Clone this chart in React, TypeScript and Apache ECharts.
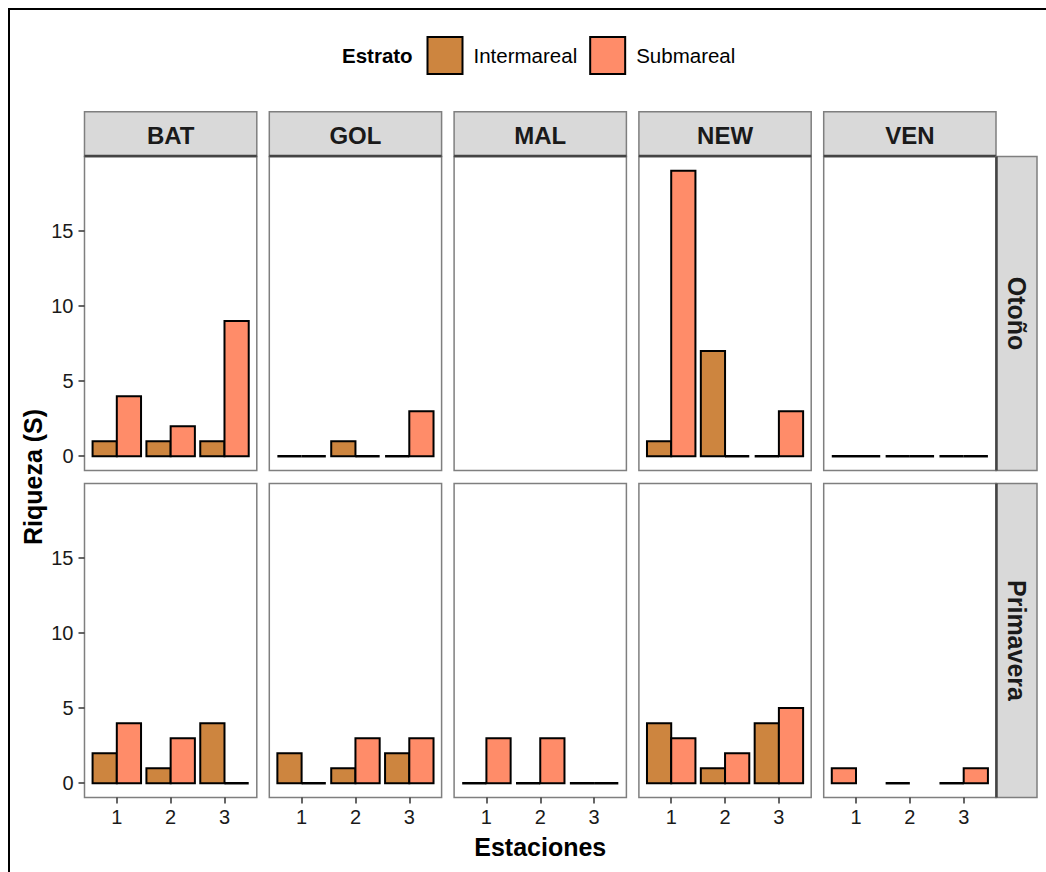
import React, { useEffect, useRef } from "react";
import * as echarts from "echarts";

// ---------- data ----------
const sites = ["BAT", "GOL", "MAL", "NEW", "VEN"];
const seasons = ["Otoño", "Primavera"];
const stations = [1, 2, 3];
const strata = ["Intermareal", "Submareal"];
const strataColors = ["#CD853F", "#FF8C69"];
const yTicks = [0, 5, 10, 15];

// Riqueza (S) per site (rows) and station (columns); null = not sampled
const otonoIntermareal = [[1, 1, 1], [0, 1, 0], [null, null, null], [1, 7, 0], [0, 0, 0]];
const otonoSubmareal = [[4, 2, 9], [0, 0, 3], [null, null, null], [19, 0, 3], [0, 0, 0]];
const primaveraIntermareal = [[2, 1, 4], [2, 1, 2], [0, 0, 0], [4, 1, 4], [null, 0, 0]];
const primaveraSubmareal = [[4, 3, 0], [0, 3, 3], [3, 3, 0], [3, 2, 5], [1, null, 1]];

const seasonData = [
  [otonoIntermareal, otonoSubmareal],
  [primaveraIntermareal, primaveraSubmareal],
];

// ---------- layout ----------
const FONT = "'Liberation Sans', Arial, Helvetica, sans-serif";
const PANEL_LEFT0 = 84.5;
const PANEL_W = 172.3;
const COL_STEP = 184.8;
const PANEL_TOP0 = 156.5;
const PANEL_H = 314;
const ROW_STEP = 327;
const STRIP_TOP = 111.7;
const STRIP_RIGHT_W = 41;

export default function App() {
  const ref = useRef<HTMLDivElement>(null);

  useEffect(() => {
    if (!ref.current) return;
    const chart = echarts.init(ref.current, undefined, { renderer: "svg" });

    const grids: any[] = [];
    const xAxes: any[] = [];
    const yAxes: any[] = [];
    const series: any[] = [];
    const graphics: any[] = [];

    // outer border
    graphics.push({
      type: "rect",
      shape: { x: 9, y: 9, width: 1100, height: 900 },
      style: { fill: "none", stroke: "#000", lineWidth: 2 },
      silent: true,
      z: 0,
    });

    seasons.forEach((season, r) => {
      sites.forEach((site, c) => {
        const gi = r * sites.length + c;
        const left = PANEL_LEFT0 + c * COL_STEP;
        const top = PANEL_TOP0 + r * ROW_STEP;
        grids.push({
          left,
          top,
          width: PANEL_W,
          height: PANEL_H,
          show: true,
          backgroundColor: "#fff",
          borderColor: "#7F7F7F",
          borderWidth: 1.5,
          containLabel: false,
          outerBoundsMode: "none",
        });
        const bottomRow = r === seasons.length - 1;
        const leftCol = c === 0;
        xAxes.push({
          type: "value",
          gridIndex: gi,
          min: 0.4,
          max: 3.6,
          axisLine: { show: false, onZero: false },
          splitLine: { show: false },
          axisTick: {
            show: bottomRow,
            customValues: stations,
            length: 6,
            lineStyle: { color: "#333", width: 1.5 },
          },
          axisLabel: {
            show: bottomRow,
            customValues: stations,
            margin: 9,
            fontSize: 20,
            color: "#1a1a1a",
            fontFamily: FONT,
          },
        });
        yAxes.push({
          type: "value",
          gridIndex: gi,
          min: -0.95,
          max: 19.95,
          axisLine: { show: false, onZero: false },
          splitLine: { show: false },
          axisTick: {
            show: leftCol,
            customValues: yTicks,
            length: 6,
            lineStyle: { color: "#333", width: 1.5 },
          },
          axisLabel: {
            show: leftCol,
            customValues: yTicks,
            margin: 11,
            fontSize: 20,
            color: "#1a1a1a",
            fontFamily: FONT,
          },
        });

        const [inter, sub] = seasonData[r];
        const values = [inter[c], sub[c]];
        strata.forEach((name, s) => {
          const data: any[] = [];
          stations.forEach((st, k) => {
            const v = values[s][k];
            if (v === null || v === undefined) return;
            const other = values[1 - s][k];
            // dodge with preserve = "single": a lone bar takes the left slot
            const slot = other === null || other === undefined ? 0 : s;
            data.push([st, slot, v]);
          });
          const color = strataColors[s];
          series.push({
            type: "custom",
            name,
            xAxisIndex: gi,
            yAxisIndex: gi,
            clip: false,
            itemStyle: { color, borderColor: "#000", borderWidth: 2 },
            encode: { x: 0, y: 2 },
            data,
            renderItem: (params: any, api: any) => {
              const x = api.value(0);
              const slot = api.value(1);
              const v = api.value(2);
              const x0 = x - 0.45 + slot * 0.45;
              const p = api.coord([x0, v]);
              const b = api.coord([x0, 0]);
              const w = api.size([0.45, 0])[0];
              if (v === 0) {
                return {
                  type: "line",
                  shape: { x1: b[0], y1: b[1], x2: b[0] + w, y2: b[1] },
                  style: { stroke: "#000", lineWidth: 2.5 },
                };
              }
              return {
                type: "rect",
                shape: { x: p[0], y: p[1], width: w, height: b[1] - p[1] },
                style: { fill: color, stroke: "#000", lineWidth: 2 },
              };
            },
          });
        });
      });
    });

    // top strips
    sites.forEach((site, c) => {
      const left = PANEL_LEFT0 + c * COL_STEP;
      const h = PANEL_TOP0 - STRIP_TOP;
      graphics.push({
        type: "rect",
        shape: { x: left, y: STRIP_TOP, width: PANEL_W, height: h },
        style: { fill: "#D9D9D9", stroke: "#7F7F7F", lineWidth: 1.5 },
        silent: true,
      });
      graphics.push({
        type: "line",
        shape: { x1: left, y1: PANEL_TOP0 - 0.5, x2: left + PANEL_W, y2: PANEL_TOP0 - 0.5 },
        style: { stroke: "#444", lineWidth: 2.5 },
        silent: true,
      });
      graphics.push({
        type: "text",
        x: left + PANEL_W / 2,
        y: STRIP_TOP + h / 2 + 1,
        style: {
          text: site,
          fontSize: 24,
          fontWeight: "bold",
          fontFamily: FONT,
          fill: "#1a1a1a",
          textAlign: "center",
          textVerticalAlign: "middle",
        },
        silent: true,
      });
    });

    // right strips
    const stripX = PANEL_LEFT0 + 4 * COL_STEP + PANEL_W;
    seasons.forEach((season, r) => {
      const top = PANEL_TOP0 + r * ROW_STEP;
      graphics.push({
        type: "rect",
        shape: { x: stripX, y: top, width: STRIP_RIGHT_W, height: PANEL_H },
        style: { fill: "#D9D9D9", stroke: "#7F7F7F", lineWidth: 1.5 },
        silent: true,
      });
      graphics.push({
        type: "line",
        shape: { x1: stripX + 0.5, y1: top, x2: stripX + 0.5, y2: top + PANEL_H },
        style: { stroke: "#444", lineWidth: 2.5 },
        silent: true,
      });
      graphics.push({
        type: "text",
        x: stripX + STRIP_RIGHT_W / 2,
        y: top + PANEL_H / 2,
        rotation: -Math.PI / 2,
        style: {
          text: season,
          fontSize: 25,
          fontWeight: "bold",
          fontFamily: FONT,
          fill: "#1a1a1a",
          textAlign: "center",
          textVerticalAlign: "middle",
        },
        silent: true,
      });
    });

    // legend title
    graphics.push({
      type: "text",
      x: 342,
      y: 55,
      style: {
        text: "Estrato",
        fontSize: 20.5,
        fontWeight: "bold",
        fontFamily: FONT,
        fill: "#000",
        textAlign: "left",
        textVerticalAlign: "middle",
      },
      silent: true,
    });

    // axis titles
    const panelsMidX = (PANEL_LEFT0 + PANEL_LEFT0 + 4 * COL_STEP + PANEL_W) / 2;
    const panelsMidY = (PANEL_TOP0 + PANEL_TOP0 + ROW_STEP + PANEL_H) / 2;
    graphics.push({
      type: "text",
      x: panelsMidX,
      y: 847,
      style: {
        text: "Estaciones",
        fontSize: 25,
        fontWeight: "bold",
        fontFamily: FONT,
        fill: "#000",
        textAlign: "center",
        textVerticalAlign: "middle",
      },
      silent: true,
    });
    graphics.push({
      type: "text",
      x: 33,
      y: panelsMidY,
      rotation: Math.PI / 2,
      style: {
        text: "Riqueza (S)",
        fontSize: 25,
        fontWeight: "bold",
        fontFamily: FONT,
        fill: "#000",
        textAlign: "center",
        textVerticalAlign: "middle",
      },
      silent: true,
    });

    chart.setOption({
      animation: false,
      backgroundColor: "#fff",
      textStyle: { fontFamily: FONT },
      legend: {
        data: strata.map((name, s) => ({
          name,
          itemStyle: { color: strataColors[s], borderColor: "#000", borderWidth: 2 },
        })),
        icon: "rect",
        left: 421.5,
        top: 31,
        itemWidth: 35,
        itemHeight: 37,
        itemGap: 12,
        selectedMode: false,
        textStyle: { fontSize: 20.5, color: "#000", fontFamily: FONT, padding: [0, 0, 0, 6] },
      },
      grid: grids,
      xAxis: xAxes,
      yAxis: yAxes,
      series,
      graphic: graphics,
    });

    return () => chart.dispose();
  }, []);

  return (
    <div
      ref={ref}
      style={{ position: "absolute", left: 0, top: 0, width: 1046, height: 872 }}
    />
  );
}
